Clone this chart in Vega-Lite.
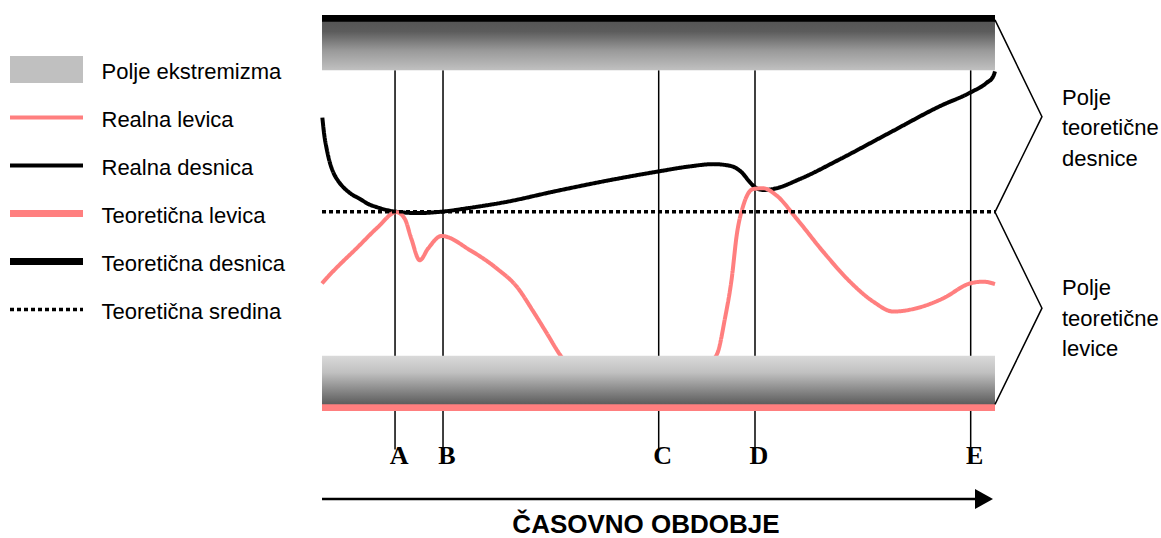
{
  "$schema": "https://vega.github.io/schema/vega-lite/v6.json",
  "width": 1161,
  "height": 538,
  "autosize": {"type": "fit", "contains": "padding"},
  "padding": 0,
  "background": "white",
  "config": {"view": {"stroke": null}},
  "datasets": {
    "curves": [
      {"series": "Realna desnica", "t": 0.05, "v": 47.6},
      {"series": "Realna desnica", "t": 0.34, "v": 38.7},
      {"series": "Realna desnica", "t": 0.7, "v": 31.7},
      {"series": "Realna desnica", "t": 1.19, "v": 24.6},
      {"series": "Realna desnica", "t": 1.68, "v": 19.9},
      {"series": "Realna desnica", "t": 2.38, "v": 15.7},
      {"series": "Realna desnica", "t": 3.17, "v": 12.4},
      {"series": "Realna desnica", "t": 4.35, "v": 9.0},
      {"series": "Realna desnica", "t": 5.65, "v": 6.5},
      {"series": "Realna desnica", "t": 6.84, "v": 4.0},
      {"series": "Realna desnica", "t": 8.13, "v": 2.36},
      {"series": "Realna desnica", "t": 10.8, "v": 0.15},
      {"series": "Realna desnica", "t": 14.26, "v": -0.65},
      {"series": "Realna desnica", "t": 17.98, "v": 0.15},
      {"series": "Realna desnica", "t": 21.7, "v": 1.86},
      {"series": "Realna desnica", "t": 27.15, "v": 4.87},
      {"series": "Realna desnica", "t": 35.07, "v": 10.7},
      {"series": "Realna desnica", "t": 42.3, "v": 15.7},
      {"series": "Realna desnica", "t": 50.07, "v": 20.45},
      {"series": "Realna desnica", "t": 54.68, "v": 22.96},
      {"series": "Realna desnica", "t": 58.14, "v": 24.1},
      {"series": "Realna desnica", "t": 60.62, "v": 23.27},
      {"series": "Realna desnica", "t": 62.36, "v": 19.95},
      {"series": "Realna desnica", "t": 63.6, "v": 14.9},
      {"series": "Realna desnica", "t": 64.34, "v": 12.4},
      {"series": "Realna desnica", "t": 65.57, "v": 11.06},
      {"series": "Realna desnica", "t": 67.06, "v": 11.56},
      {"series": "Realna desnica", "t": 71.02, "v": 16.58},
      {"series": "Realna desnica", "t": 76.97, "v": 26.6},
      {"series": "Realna desnica", "t": 84.4, "v": 40.05},
      {"series": "Realna desnica", "t": 91.83, "v": 53.4},
      {"series": "Realna desnica", "t": 96.43, "v": 60.45},
      {"series": "Realna desnica", "t": 98.77, "v": 65.2},
      {"series": "Realna desnica", "t": 99.75, "v": 68.5},
      {"series": "Realna desnica", "t": 100, "v": 71.0},
      {"series": "Realna levica", "t": 0, "v": -36.2},
      {"series": "Realna levica", "t": 0.89, "v": -32.8},
      {"series": "Realna levica", "t": 5.35, "v": -17.7},
      {"series": "Realna levica", "t": 8.32, "v": -7.7},
      {"series": "Realna levica", "t": 11.04, "v": -0.15},
      {"series": "Realna levica", "t": 12.29, "v": -3.5},
      {"series": "Realna levica", "t": 13.27, "v": -13.6},
      {"series": "Realna levica", "t": 14.52, "v": -24.5},
      {"series": "Realna levica", "t": 15.75, "v": -18.6},
      {"series": "Realna levica", "t": 17.76, "v": -12.2},
      {"series": "Realna levica", "t": 22.0, "v": -19.4},
      {"series": "Realna levica", "t": 25.96, "v": -28.6},
      {"series": "Realna levica", "t": 28.93, "v": -37.8},
      {"series": "Realna levica", "t": 31.4, "v": -50.4},
      {"series": "Realna levica", "t": 33.39, "v": -61.3},
      {"series": "Realna levica", "t": 35.36, "v": -72.2},
      {"series": "Realna levica", "t": 41.3, "v": -88.0},
      {"series": "Realna levica", "t": 53.2, "v": -88.0},
      {"series": "Realna levica", "t": 58.65, "v": -72.2},
      {"series": "Realna levica", "t": 59.88, "v": -53.8},
      {"series": "Realna levica", "t": 60.88, "v": -33.7},
      {"series": "Realna levica", "t": 61.62, "v": -11.9},
      {"series": "Realna levica", "t": 62.6, "v": 3.2},
      {"series": "Realna levica", "t": 64.09, "v": 11.56},
      {"series": "Realna levica", "t": 65.57, "v": 11.9},
      {"series": "Realna levica", "t": 67.56, "v": 8.2},
      {"series": "Realna levica", "t": 70.53, "v": -3.5},
      {"series": "Realna levica", "t": 74.49, "v": -20.25},
      {"series": "Realna levica", "t": 78.45, "v": -35.3},
      {"series": "Realna levica", "t": 81.92, "v": -45.4},
      {"series": "Realna levica", "t": 84.89, "v": -50.4},
      {"series": "Realna levica", "t": 88.37, "v": -48.7},
      {"series": "Realna levica", "t": 92.32, "v": -43.7},
      {"series": "Realna levica", "t": 96.28, "v": -36.2},
      {"series": "Realna levica", "t": 98.26, "v": -35.3},
      {"series": "Realna levica", "t": 100, "v": -36.5},
      {"series": "Teoretična desnica", "t": 0, "v": 97.7},
      {"series": "Teoretična desnica", "t": 100, "v": 97.7},
      {"series": "Teoretična levica", "t": 0, "v": -98.9},
      {"series": "Teoretična levica", "t": 100, "v": -98.9},
      {"series": "Teoretična sredina", "t": 0, "v": 0},
      {"series": "Teoretična sredina", "t": 100, "v": 0}
    ],
    "events": [
      {"event": "A", "t": 10.85},
      {"event": "B", "t": 17.98},
      {"event": "C", "t": 50.03},
      {"event": "D", "t": 64.34},
      {"event": "E", "t": 96.39}
    ],
    "brace": [
      {"i": 0, "t": 100, "v": 97.0},
      {"i": 1, "t": 106.98, "v": 48.1},
      {"i": 2, "t": 100, "v": -0.15},
      {"i": 3, "t": 106.98, "v": -48.7},
      {"i": 4, "t": 100, "v": -97.3}
    ]
  },
  "layer": [
    {
      "data": {"name": "events"},
      "mark": {"type": "rule", "stroke": "black", "strokeWidth": 1.5},
      "encoding": {
        "x": {"field": "t", "type": "quantitative", "scale": {"domain": [-47.85, 124.67], "nice": false, "zero": false}, "axis": null},
        "y": {"datum": 71.6, "type": "quantitative", "scale": {"domain": [-163.32, 107.04], "nice": false, "zero": false}, "axis": null},
        "y2": {"datum": -120.1}
      }
    },
    {
      "data": {"name": "curves"},
      "mark": {"type": "line", "interpolate": "monotone"},
      "encoding": {
        "x": {"field": "t", "type": "quantitative", "scale": {"domain": [-47.85, 124.67], "nice": false, "zero": false}, "axis": null},
        "y": {"field": "v", "type": "quantitative", "scale": {"domain": [-163.32, 107.04], "nice": false, "zero": false}, "axis": null},
        "color": {
          "field": "series", "type": "nominal",
          "scale": {"domain": ["Polje ekstremizma", "Realna levica", "Realna desnica", "Teoretična levica", "Teoretična desnica", "Teoretična sredina"],
                    "range": ["#c0c0c0", "#ff7f7f", "#000000", "#ff7f7f", "#000000", "#000000"]},
          "legend": {"orient": "none", "legendX": 10, "legendY": 45.55, "title": null, "padding": 0, "columns": 1, "symbolType": "stroke", "symbolSize": 5329, "symbolOffset": -13.5, "labelOffset": 5, "clipHeight": 47.9, "rowPadding": 0, "labelFont": "Liberation Sans", "labelFontSize": 22, "labelColor": "black", "labelLimit": 400, "encode": {"labels": {"update": {"dy": {"value": 2}}}}}
        },
        "strokeWidth": {
          "field": "series", "type": "ordinal",
          "scale": {"type": "ordinal", "domain": ["Polje ekstremizma", "Realna levica", "Realna desnica", "Teoretična levica", "Teoretična desnica", "Teoretična sredina"],
                    "range": [27, 4, 4, 7, 7, 3.5]},
          "legend": {"orient": "none", "legendX": 10, "legendY": 45.55, "title": null, "padding": 0, "columns": 1, "symbolType": "stroke", "symbolSize": 5329, "symbolOffset": -13.5, "labelOffset": 5, "clipHeight": 47.9, "rowPadding": 0, "labelFont": "Liberation Sans", "labelFontSize": 22, "labelColor": "black", "labelLimit": 400, "encode": {"labels": {"update": {"dy": {"value": 2}}}}}
        },
        "strokeDash": {
          "field": "series", "type": "nominal",
          "scale": {"domain": ["Polje ekstremizma", "Realna levica", "Realna desnica", "Teoretična levica", "Teoretična desnica", "Teoretična sredina"],
                    "range": [[1, 0], [1, 0], [1, 0], [1, 0], [1, 0], [4, 3]]},
          "legend": {"orient": "none", "legendX": 10, "legendY": 45.55, "title": null, "padding": 0, "columns": 1, "symbolType": "stroke", "symbolSize": 5329, "symbolOffset": -13.5, "labelOffset": 5, "clipHeight": 47.9, "rowPadding": 0, "labelFont": "Liberation Sans", "labelFontSize": 22, "labelColor": "black", "labelLimit": 400, "encode": {"labels": {"update": {"dy": {"value": 2}}}}}
        }
      }
    },
    {
      "data": {"values": [{}]},
      "mark": {"type": "rect", "stroke": null,
        "fill": {"gradient": "linear", "x1": 0, "y1": 0, "x2": 0, "y2": 1,
          "stops": [{"offset": 0, "color": "#565656"}, {"offset": 0.2, "color": "#5c5c5c"}, {"offset": 0.6, "color": "#9a9a9a"}, {"offset": 1, "color": "#c0c0c0"}]}},
      "encoding": {
        "x": {"datum": 0, "type": "quantitative", "scale": {"domain": [-47.85, 124.67], "nice": false, "zero": false}, "axis": null},
        "x2": {"datum": 100},
        "y": {"datum": 96.0, "type": "quantitative", "scale": {"domain": [-163.32, 107.04], "nice": false, "zero": false}, "axis": null},
        "y2": {"datum": 71.6}
      }
    },
    {
      "data": {"values": [{}]},
      "mark": {"type": "rect", "stroke": null,
        "fill": {"gradient": "linear", "x1": 0, "y1": 0, "x2": 0, "y2": 1,
          "stops": [{"offset": 0, "color": "#dadada"}, {"offset": 0.35, "color": "#c0c0c0"}, {"offset": 1, "color": "#5c5c5c"}]}},
      "encoding": {
        "x": {"datum": 0, "type": "quantitative", "scale": {"domain": [-47.85, 124.67], "nice": false, "zero": false}, "axis": null},
        "x2": {"datum": 100},
        "y": {"datum": -72.7, "type": "quantitative", "scale": {"domain": [-163.32, 107.04], "nice": false, "zero": false}, "axis": null},
        "y2": {"datum": -97.3}
      }
    },
    {
      "data": {"name": "brace"},
      "mark": {"type": "line", "stroke": "black", "strokeWidth": 1.5},
      "encoding": {
        "x": {"field": "t", "type": "quantitative", "scale": {"domain": [-47.85, 124.67], "nice": false, "zero": false}, "axis": null},
        "y": {"field": "v", "type": "quantitative", "scale": {"domain": [-163.32, 107.04], "nice": false, "zero": false}, "axis": null},
        "order": {"field": "i", "type": "quantitative"}
      }
    },
    {
      "data": {"name": "events"},
      "mark": {"type": "text", "font": "Liberation Serif", "fontWeight": "bold", "fontSize": 26, "dx": 4, "align": "center", "baseline": "alphabetic", "color": "black"},
      "encoding": {
        "x": {"field": "t", "type": "quantitative", "scale": {"domain": [-47.85, 124.67], "nice": false, "zero": false}, "axis": null},
        "y": {"datum": -127.6, "type": "quantitative", "scale": {"domain": [-163.32, 107.04], "nice": false, "zero": false}, "axis": null},
        "text": {"field": "event"}
      }
    },
    {
      "data": {"values": [{"label": "Polje\nteoretične\ndesnice"}]},
      "mark": {"type": "text", "align": "left", "baseline": "top", "lineBreak": "\n", "lineHeight": 30.5, "font": "Liberation Sans", "fontSize": 22, "color": "black"},
      "encoding": {
        "x": {"datum": 109.96, "type": "quantitative", "scale": {"domain": [-47.85, 124.67], "nice": false, "zero": false}, "axis": null},
        "y": {"datum": 62.7, "type": "quantitative", "scale": {"domain": [-163.32, 107.04], "nice": false, "zero": false}, "axis": null},
        "text": {"field": "label"}
      }
    },
    {
      "data": {"values": [{"label": "Polje\nteoretične\nlevice"}]},
      "mark": {"type": "text", "align": "left", "baseline": "top", "lineBreak": "\n", "lineHeight": 30.5, "font": "Liberation Sans", "fontSize": 22, "color": "black"},
      "encoding": {
        "x": {"datum": 109.96, "type": "quantitative", "scale": {"domain": [-47.85, 124.67], "nice": false, "zero": false}, "axis": null},
        "y": {"datum": -33.5, "type": "quantitative", "scale": {"domain": [-163.32, 107.04], "nice": false, "zero": false}, "axis": null},
        "text": {"field": "label"}
      }
    },
    {
      "data": {"values": [{}]},
      "mark": {"type": "rule", "stroke": "black", "strokeWidth": 2.5},
      "encoding": {
        "x": {"datum": 0, "type": "quantitative", "scale": {"domain": [-47.85, 124.67], "nice": false, "zero": false}, "axis": null},
        "x2": {"datum": 97.5},
        "y": {"datum": -145.1, "type": "quantitative", "scale": {"domain": [-163.32, 107.04], "nice": false, "zero": false}, "axis": null}
      }
    },
    {
      "data": {"values": [{}]},
      "mark": {"type": "point", "shape": "M-0.9,-1L0.9,0L-0.9,1Z", "size": 400, "filled": true, "color": "black", "opacity": 1, "strokeWidth": 0},
      "encoding": {
        "x": {"datum": 98.37, "type": "quantitative", "scale": {"domain": [-47.85, 124.67], "nice": false, "zero": false}, "axis": null},
        "y": {"datum": -145.1, "type": "quantitative", "scale": {"domain": [-163.32, 107.04], "nice": false, "zero": false}, "axis": null}
      }
    },
    {
      "data": {"values": [{"label": "ČASOVNO OBDOBJE"}]},
      "mark": {"type": "text", "align": "center", "baseline": "alphabetic", "font": "Liberation Sans", "fontWeight": "bold", "fontSize": 26, "color": "black"},
      "encoding": {
        "x": {"datum": 48.14, "type": "quantitative", "scale": {"domain": [-47.85, 124.67], "nice": false, "zero": false}, "axis": null},
        "y": {"datum": -162.3, "type": "quantitative", "scale": {"domain": [-163.32, 107.04], "nice": false, "zero": false}, "axis": null},
        "text": {"field": "label"}
      }
    }
  ]
}
